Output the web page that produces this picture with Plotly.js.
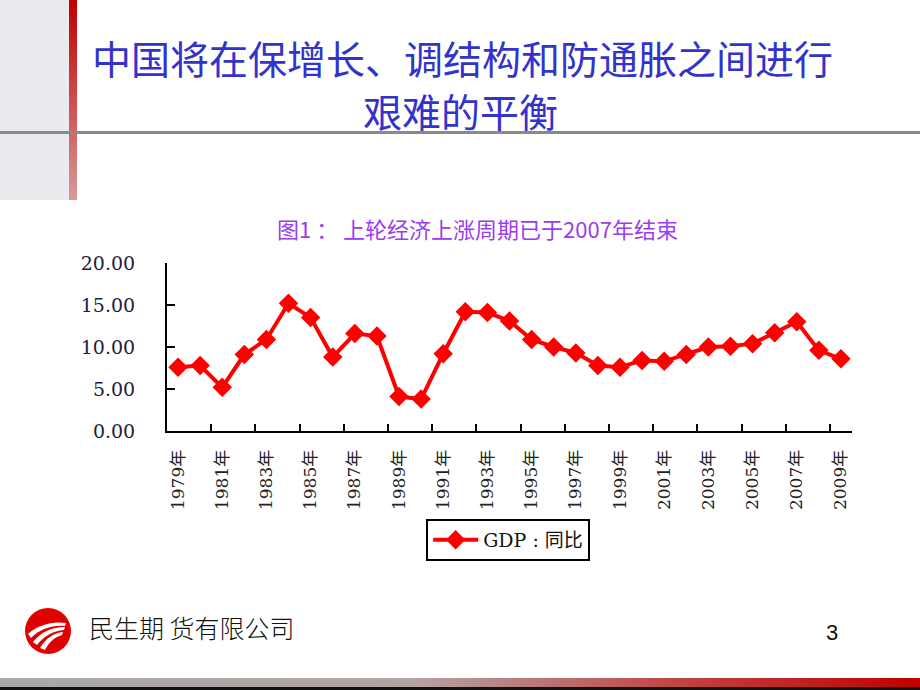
<!DOCTYPE html>
<html>
<head>
<meta charset="utf-8">
<script src="https://cdn.plot.ly/plotly-3.0.1.min.js"></script>
<style>
  html, body { margin: 0; padding: 0; width: 920px; height: 690px; overflow: hidden; background: #ffffff; }
  .deco { position: absolute; z-index: 0; }
  #chart { position: absolute; left: 0; top: 0; width: 920px; height: 690px; z-index: 1; }
</style>
</head>
<body>
<div class="deco" style="left:0;top:0;width:69px;height:200px;background:#e9ebef;"></div>
<div class="deco" style="left:69px;top:0;width:8px;height:200px;background:linear-gradient(to bottom,#c00000,#d99a9a);"></div>
<div class="deco" style="left:0;top:131px;width:920px;height:3px;background:#8a8a8a;"></div>
<div class="deco" style="left:0;top:678px;width:920px;height:9px;background:linear-gradient(to right,#a9a9a9 0%,#b4a4a4 45%,#c24040 75%,#c00000 100%);"></div>
<div class="deco" style="left:0;top:687px;width:920px;height:3px;background:#111;"></div>
<svg class="deco" style="left:24px;top:607px;" width="48" height="48" viewBox="0 0 48 48">
  <circle cx="24" cy="24" r="23" fill="#e00000"/>
  <path d="M4 27 C 14 18, 28 14, 42 16 L 41 19 C 28 18, 16 22, 7 31 Z" fill="#fff"/>
  <path d="M9 35 C 17 25, 28 20, 41 20 L 40 23 C 29 24, 20 29, 13 38 Z" fill="#fff"/>
  <path d="M16 41 C 22 31, 30 26, 39 25 L 38 28 C 31 30, 25 35, 21 43 Z" fill="#fff"/>
</svg>
<div id="chart"></div>
<script>
// ---- data ----
const years = ['1979年','1980年','1981年','1982年','1983年','1984年','1985年','1986年','1987年','1988年',
               '1989年','1990年','1991年','1992年','1993年','1994年','1995年','1996年','1997年','1998年',
               '1999年','2000年','2001年','2002年','2003年','2004年','2005年','2006年','2007年','2008年','2009年'];
const gdpYoY = [7.6, 7.8, 5.2, 9.1, 10.9, 15.2, 13.5, 8.8, 11.6, 11.3,
                4.1, 3.8, 9.2, 14.2, 14.1, 13.1, 10.9, 10.0, 9.3, 7.8,
                7.6, 8.4, 8.3, 9.1, 10.0, 10.1, 10.4, 11.7, 13.0, 9.6, 8.6];
const seriesName = 'GDP : 同比';
const yTickVals = [0, 5, 10, 15, 20];
const yTickText = ['0.00', '5.00', '10.00', '15.00', '20.00'];
const titleLine1 = '中国将在保增长、调结构和防通胀之间进行';
const titleLine2 = '艰难的平衡';
const chartTitle = '图1 ： 上轮经济上涨周期已于2007年结束';
const footerText = '民生期 货有限公司';
const pageNo = '3';

// ---- layout helpers (pixel -> paper) ----
const PL = 166.7, PR = 852, PT = 263, PB = 431;
const xp = px => (px - PL) / (PR - PL);
const yp = py => (PB - py) / (PB - PT);

const trace = {
  type: 'scatter', mode: 'lines+markers',
  x: years, y: gdpYoY, name: seriesName, showlegend: true,
  line: { color: '#ff0000', width: 4 },
  marker: { symbol: 'diamond', size: 15, color: '#ff0000' },
  cliponaxis: false
};

const serif = 'DejaVu Serif, Liberation Serif, Noto Sans CJK SC, serif';
const cjk = 'Noto Sans CJK SC, sans-serif';

const layout = {
  width: 920, height: 690,
  margin: { l: PL, r: 920 - PR, t: PT, b: 690 - PB, pad: 0 },
  paper_bgcolor: 'rgba(0,0,0,0)', plot_bgcolor: 'rgba(0,0,0,0)',
  xaxis: {
    type: 'category', range: [-0.5, years.length - 0.5],
    tickmode: 'linear', tick0: 0, dtick: 2, tickson: 'boundaries',
    ticks: 'inside', ticklen: 7, tickwidth: 2, tickcolor: '#000',
    showline: true, linecolor: '#000', linewidth: 2,
    showgrid: false, zeroline: false, tickangle: -90,
    ticklabelstandoff: 10,
    tickfont: { family: serif, size: 17, color: '#222' }
  },
  yaxis: {
    range: [0, 20], tickmode: 'array', tickvals: yTickVals, ticktext: yTickText,
    ticks: 'inside', ticklen: 8, tickwidth: 2, tickcolor: '#000',
    showline: true, linecolor: '#000', linewidth: 2,
    showgrid: false, zeroline: false,
    ticklabelstandoff: 26,
    tickfont: { family: serif, size: 19, color: '#1e1e3c' }
  },
  legend: {
    x: xp(508), y: yp(540), xanchor: 'center', yanchor: 'middle',
    bgcolor: '#ffffff', bordercolor: '#000', borderwidth: 2,
    itemwidth: 45,
    font: { family: serif, size: 19, color: '#111' }
  },
  annotations: [
    { text: titleLine1, xref: 'paper', yref: 'paper', x: xp(462), y: yp(57), xanchor: 'center', yanchor: 'middle',
      showarrow: false, font: { family: cjk, size: 39, color: '#3333cc' } },
    { text: titleLine2, xref: 'paper', yref: 'paper', x: xp(460), y: yp(110), xanchor: 'center', yanchor: 'middle',
      showarrow: false, font: { family: cjk, size: 39, color: '#3333cc' } },
    { text: chartTitle, xref: 'paper', yref: 'paper', x: xp(477), y: yp(228), xanchor: 'center', yanchor: 'middle',
      showarrow: false, font: { family: cjk, size: 22, color: '#9a3cf0' } },
    { text: footerText, xref: 'paper', yref: 'paper', x: xp(87), y: yp(627), xanchor: 'left', yanchor: 'middle',
      showarrow: false, font: { family: cjk, size: 25, color: '#111', weight: 300 } },
    { text: pageNo, xref: 'paper', yref: 'paper', x: xp(832), y: yp(632), xanchor: 'center', yanchor: 'middle',
      showarrow: false, font: { family: 'Liberation Sans, Arial, sans-serif', size: 22, color: '#111' } }
  ]
};

Plotly.newPlot('chart', [trace], layout, { displayModeBar: false, staticPlot: true });
</script>
</body>
</html>
